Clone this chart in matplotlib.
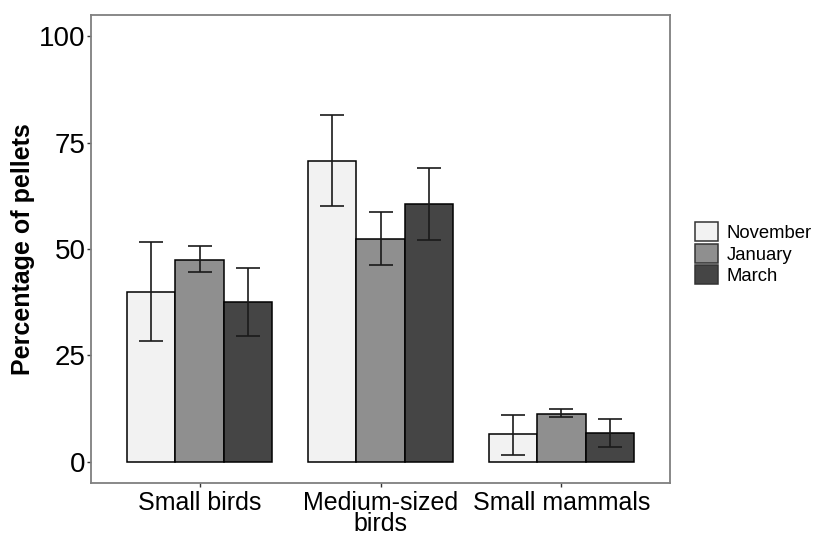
import matplotlib.pyplot as plt
import numpy as np
from matplotlib.patches import Patch

plt.rcParams['font.family'] = ['Liberation Sans', 'DejaVu Sans']

categories = ['Small birds', 'Medium-sized\nbirds', 'Small mammals']
months = ['November', 'January', 'March']
colors = ['#f2f2f2', '#8f8f8f', '#454545']

# mean percentage and error bar limits per month, one value per category
means = {
    'November': [39.9, 70.8, 6.5],
    'January': [47.5, 52.4, 11.3],
    'March': [37.6, 60.5, 6.8],
}
lower = {
    'November': [28.3, 60.2, 1.6],
    'January': [44.6, 46.3, 10.4],
    'March': [29.5, 52.0, 3.4],
}
upper = {
    'November': [51.6, 81.4, 11.1],
    'January': [50.6, 58.6, 12.3],
    'March': [45.6, 69.0, 10.1],
}

fig = plt.figure(figsize=(8.16, 5.35), dpi=100)
ax = fig.add_axes([91 / 816, 1 - 483 / 535, (670 - 91) / 816, (483 - 15) / 535])

x = np.arange(1, len(categories) + 1)
width = 0.8 / 3
for i, m in enumerate(months):
    pos = x + (i - 1) * width
    ax.bar(pos, means[m], width, color=colors[i], edgecolor='black', linewidth=1.1, zorder=2)
    mv = np.array(means[m])
    err = [mv - np.array(lower[m]), np.array(upper[m]) - mv]
    ax.errorbar(pos, mv, yerr=err, fmt='none', ecolor='#1a1a1a', elinewidth=1.2,
                capsize=8.6, capthick=1.2, zorder=3)

ax.set_xlim(0.4, 3.6)
ax.set_ylim(-5, 105)
ax.set_yticks([0, 25, 50, 75, 100])
ax.set_xticks(x)
ax.set_xticklabels(categories, fontsize=18, color='black', linespacing=0.85)
ax.tick_params(axis='y', labelsize=20, colors='#333333', labelcolor='black', length=3, width=1, pad=1)
ax.tick_params(axis='x', colors='#333333', labelcolor='black', length=3, width=1, pad=3)
ax.set_ylabel('Percentage of pellets', fontsize=18, fontweight='bold', labelpad=3)

for s in ax.spines.values():
    s.set_color('#7f7f7f')
    s.set_linewidth(1.3)

handles = [Patch(facecolor=c, edgecolor='#333333', linewidth=1.1) for c in colors]
ax.legend(handles, months, loc='center left', bbox_to_anchor=(1.03, 0.49), frameon=False,
          fontsize=13.3, handlelength=1.24, handleheight=1.2, labelspacing=0.1,
          handletextpad=0.5, borderaxespad=0)

fig.savefig('out.png', dpi=100)
